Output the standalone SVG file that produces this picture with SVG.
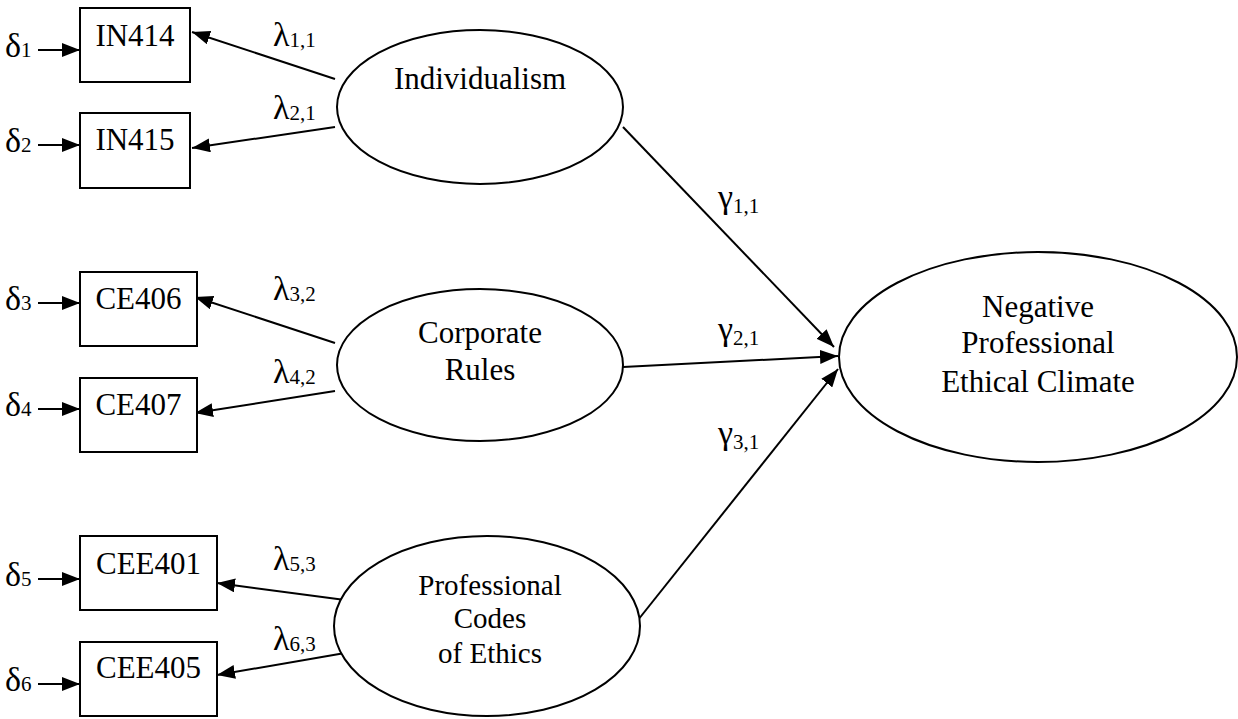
<svg xmlns="http://www.w3.org/2000/svg" width="1238" height="719" viewBox="0 0 1238 719">
  <style>
    .box { fill: #fff; stroke: #000; stroke-width: 2; }
    .lat { fill: #fff; stroke: #000; stroke-width: 2; }
    .lbl { font-family: "Liberation Serif", "Times New Roman", serif; font-size: 31px; fill: #000; text-anchor: middle; }
    .sym { font-family: "Liberation Serif", "Times New Roman", serif; font-size: 34px; fill: #000; }
    .sub { font-size: 21px; }
    .edge { stroke: #000; stroke-width: 2; fill: none; marker-end: url(#head); }
  </style>
  <defs>
    <marker id="head" markerUnits="userSpaceOnUse" markerWidth="18" markerHeight="14" refX="18" refY="7" orient="auto">
      <path d="M0,0 L18,7 L0,14 z" fill="#000"/>
    </marker>
  </defs>

  <!-- connectors -->
  <g id="connectors">
    <!-- error terms -->
    <line class="edge" x1="38" y1="50" x2="80" y2="50"/>
    <line class="edge" x1="38" y1="145" x2="80" y2="145"/>
    <line class="edge" x1="38" y1="303" x2="80" y2="303"/>
    <line class="edge" x1="38" y1="409" x2="80" y2="409"/>
    <line class="edge" x1="38" y1="579" x2="80" y2="579"/>
    <line class="edge" x1="38" y1="684" x2="80" y2="684"/>
    <!-- loadings -->
    <line class="edge" x1="335" y1="79" x2="192" y2="32"/>
    <line class="edge" x1="335" y1="127" x2="192" y2="148"/>
    <line class="edge" x1="335" y1="343" x2="195" y2="297"/>
    <line class="edge" x1="335" y1="391" x2="195" y2="413"/>
    <line class="edge" x1="345" y1="600" x2="217" y2="583"/>
    <line class="edge" x1="345" y1="653" x2="217" y2="675"/>
    <!-- structural paths -->
    <line class="edge" x1="623" y1="127" x2="834" y2="347"/>
    <line class="edge" x1="623" y1="367" x2="838" y2="356"/>
    <line class="edge" x1="638" y1="620" x2="838" y2="369"/>

    <!-- path labels -->
    <text class="sym" x="5" y="57">δ<tspan class="sub">1</tspan></text>
    <text class="sym" x="5" y="152">δ<tspan class="sub">2</tspan></text>
    <text class="sym" x="5" y="310">δ<tspan class="sub">3</tspan></text>
    <text class="sym" x="5" y="416">δ<tspan class="sub">4</tspan></text>
    <text class="sym" x="5" y="586">δ<tspan class="sub">5</tspan></text>
    <text class="sym" x="5" y="691">δ<tspan class="sub">6</tspan></text>

    <text class="sym" x="273" y="46">λ<tspan class="sub" dy="1">1,1</tspan></text>
    <text class="sym" x="273" y="119">λ<tspan class="sub" dy="1">2,1</tspan></text>
    <text class="sym" x="273" y="300">λ<tspan class="sub" dy="1">3,2</tspan></text>
    <text class="sym" x="273" y="383">λ<tspan class="sub" dy="1">4,2</tspan></text>
    <text class="sym" x="273" y="570">λ<tspan class="sub" dy="1">5,3</tspan></text>
    <text class="sym" x="273" y="650">λ<tspan class="sub" dy="1">6,3</tspan></text>

    <text class="sym" x="718" y="208">γ<tspan class="sub" dy="5">1,1</tspan></text>
    <text class="sym" x="718" y="340">γ<tspan class="sub" dy="5">2,1</tspan></text>
    <text class="sym" x="718" y="444">γ<tspan class="sub" dy="5">3,1</tspan></text>
  </g>

  <!-- observed indicators -->
  <g id="IN414"><rect class="box" x="80" y="8" width="110" height="74"/><text class="lbl" x="135" y="46">IN414</text></g>
  <g id="IN415"><rect class="box" x="80" y="113" width="110" height="75"/><text class="lbl" x="135" y="150">IN415</text></g>
  <g id="CE406"><rect class="box" x="80" y="272" width="117" height="74"/><text class="lbl" x="138.5" y="309">CE406</text></g>
  <g id="CE407"><rect class="box" x="80" y="378" width="117" height="74"/><text class="lbl" x="138.5" y="415">CE407</text></g>
  <g id="CEE401"><rect class="box" x="80" y="536" width="137" height="74"/><text class="lbl" x="148.5" y="574">CEE401</text></g>
  <g id="CEE405"><rect class="box" x="80" y="642" width="137" height="74"/><text class="lbl" x="148.5" y="678">CEE405</text></g>

  <!-- latent constructs -->
  <g id="individualism">
    <ellipse class="lat" cx="480" cy="107" rx="143" ry="77"/>
    <text class="lbl" x="480" y="89">Individualism</text>
  </g>
  <g id="corporate-rules">
    <ellipse class="lat" cx="480" cy="365" rx="143" ry="76"/>
    <text class="lbl" x="480" y="343">Corporate</text>
    <text class="lbl" x="480" y="380">Rules</text>
  </g>
  <g id="professional-codes">
    <ellipse class="lat" cx="487" cy="626" rx="153" ry="90"/>
    <text class="lbl" x="490" y="595" style="font-size:29px">Professional</text>
    <text class="lbl" x="490" y="628" style="font-size:29px">Codes</text>
    <text class="lbl" x="490" y="663" style="font-size:29px">of Ethics</text>
  </g>
  <g id="negative-climate">
    <ellipse class="lat" cx="1038" cy="357" rx="199" ry="105"/>
    <text class="lbl" x="1038" y="317">Negative</text>
    <text class="lbl" x="1038" y="353">Professional</text>
    <text class="lbl" x="1038" y="392">Ethical Climate</text>
  </g>
</svg>
